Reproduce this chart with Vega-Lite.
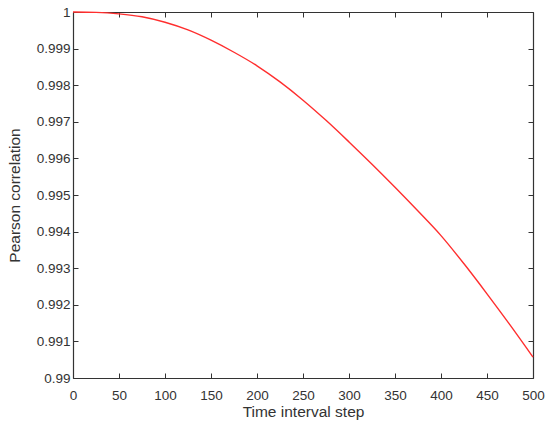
{
  "$schema": "https://vega.github.io/schema/vega-lite/v6.json",
  "autosize": "none",
  "padding": {"left": 73, "top": 12, "right": 17, "bottom": 52},
  "width": 460,
  "height": 366,
  "background": "white",
  "config": {
    "font": "Liberation Sans",
    "view": {"stroke": null},
    "axis": {
      "domainColor": "#333333",
      "domainWidth": 1.2,
      "tickColor": "#333333",
      "tickSize": -5,
      "tickWidth": 1,
      "grid": false,
      "labelFont": "Liberation Sans",
      "labelFontSize": 13.5,
      "labelColor": "#333333",
      "titleFont": "Liberation Sans",
      "titleFontSize": 15.5,
      "titleFontWeight": "normal",
      "titleColor": "#333333"
    }
  },
  "data": {
    "values": [
      {"step": 0, "r": 1.0},
      {"step": 25, "r": 0.99999},
      {"step": 50, "r": 0.99995},
      {"step": 75, "r": 0.99987},
      {"step": 100, "r": 0.99972},
      {"step": 125, "r": 0.99951},
      {"step": 150, "r": 0.99923},
      {"step": 175, "r": 0.9989},
      {"step": 200, "r": 0.99853},
      {"step": 225, "r": 0.99809},
      {"step": 250, "r": 0.99759},
      {"step": 275, "r": 0.99704},
      {"step": 300, "r": 0.99645},
      {"step": 325, "r": 0.99584},
      {"step": 350, "r": 0.99521},
      {"step": 375, "r": 0.99456},
      {"step": 400, "r": 0.99389},
      {"step": 425, "r": 0.99312},
      {"step": 450, "r": 0.9923},
      {"step": 475, "r": 0.99145},
      {"step": 500, "r": 0.99057}
    ]
  },
  "layer": [
    {
      "mark": {"type": "line", "color": "#ff2e2e", "strokeWidth": 1.4, "interpolate": "monotone"},
      "encoding": {
        "x": {
          "field": "step", "type": "quantitative",
          "scale": {"domain": [0, 500], "nice": false, "zero": false},
          "axis": {"title": "Time interval step", "values": [0,50,100,150,200,250,300,350,400,450,500], "labelPadding": 15, "titlePadding": 3, "labelFlush": false}
        },
        "y": {
          "field": "r", "type": "quantitative",
          "scale": {"domain": [0.99, 1], "nice": false, "zero": false},
          "axis": {"title": "Pearson correlation", "values": [0.99,0.991,0.992,0.993,0.994,0.995,0.996,0.997,0.998,0.999,1], "format": ".3~f", "labelPadding": 8, "titlePadding": 14, "labelFlush": false}
        }
      }
    },
    {
      "mark": {"type": "line", "opacity": 0},
      "encoding": {
        "x": {
          "field": "step", "type": "quantitative",
          "axis": {"orient": "top", "title": null, "labels": false, "values": [0,50,100,150,200,250,300,350,400,450,500]}
        },
        "y": {
          "field": "r", "type": "quantitative",
          "axis": {"orient": "right", "title": null, "labels": false, "values": [0.99,0.991,0.992,0.993,0.994,0.995,0.996,0.997,0.998,0.999,1]}
        }
      }
    }
  ],
  "resolve": {"axis": {"x": "independent", "y": "independent"}}
}
